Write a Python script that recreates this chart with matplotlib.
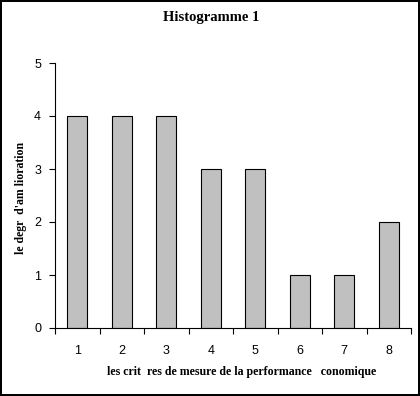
import matplotlib
matplotlib.use("Agg")
import matplotlib.pyplot as plt
from matplotlib import font_manager
import numpy as np

# criteria number and improvement degree
criteres = [1, 2, 3, 4, 5, 6, 7, 8]
degres = [4, 4, 4, 3, 3, 1, 1, 2]
y_ticks = [0, 1, 2, 3, 4, 5]

names = sorted({f.name for f in font_manager.fontManager.ttflist if "Liber" in f.name or "Arial" in f.name})
print(names)
sans = "Liberation Sans" if "Liberation Sans" in names else "DejaVu Sans"

plt.rcParams["font.family"] = [sans, "DejaVu Sans"]

fig = plt.figure(figsize=(4.2, 3.96), dpi=100)
fig.patch.set_edgecolor("black")
fig.patch.set_linewidth(1.5)

ax = fig.add_axes([55 / 420, 68 / 396, 356 / 420, 265 / 396])
ax.bar(criteres, degres, width=0.46, color="#c0c0c0", edgecolor="black", linewidth=0.8, zorder=2)

ax.set_xlim(0.5, 8.5)
ax.set_ylim(0, 5)
ax.set_yticks(y_ticks)
ax.set_xticks(criteres)
ax.set_xticks(np.arange(0.5, 9.0, 1.0), minor=True)

for s in ("top", "right"):
    ax.spines[s].set_visible(False)
for s in ("left", "bottom"):
    ax.spines[s].set_linewidth(0.8)

ax.tick_params(axis="x", which="major", length=0, pad=12, labelsize=9)
ax.tick_params(axis="x", which="minor", length=4, width=0.8, direction="out")
ax.tick_params(axis="y", length=4, width=0.8, direction="out", pad=6, labelsize=9)
for lab in ax.get_xticklabels() + ax.get_yticklabels():
    lab.set_fontfamily(sans)

ax.set_xlabel("les crit  res de mesure de la performance   conomique",
              fontfamily="Liberation Serif", fontweight="bold", fontsize=8.6)
ax.xaxis.set_label_coords(0.525, -0.143)
ax.set_ylabel("le degr  d'am lioration",
              fontfamily="Liberation Serif", fontweight="bold", fontsize=8.5)
ax.yaxis.set_label_coords(-0.08, 0.49)

fig.text(211 / 420, 1 - 17 / 396, "Histogramme 1", ha="center", va="center",
         fontfamily="Liberation Serif", fontweight="bold", fontsize=10.5)

fig.savefig("out.png", dpi=100, edgecolor=fig.get_edgecolor())
